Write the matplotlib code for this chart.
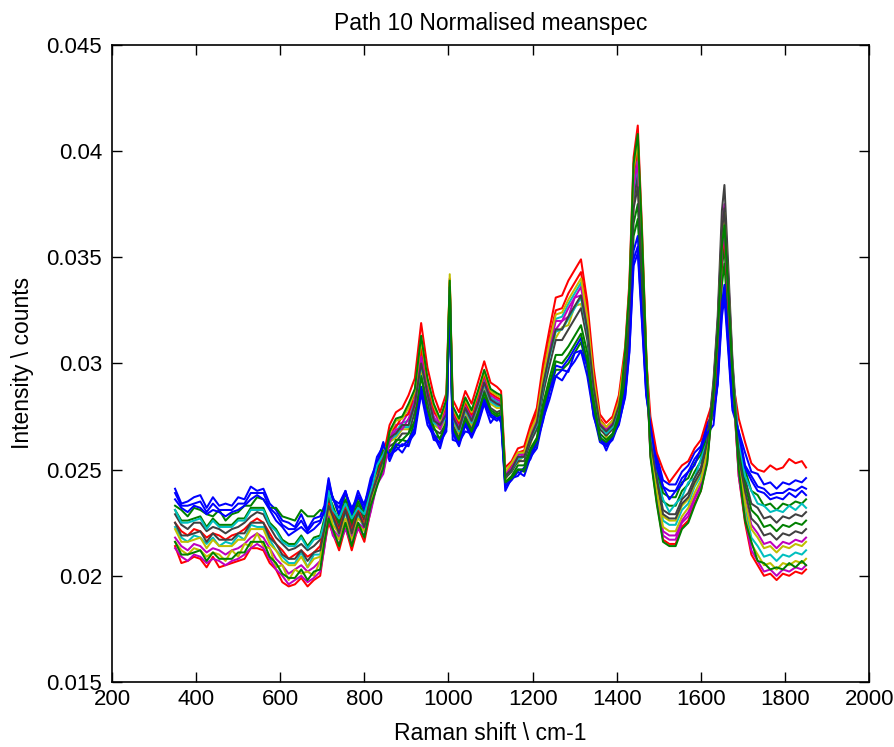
import matplotlib
matplotlib.use('Agg')
import matplotlib.pyplot as plt
import numpy as np

plt.rcParams['font.family'] = ['Liberation Sans', 'DejaVu Sans']

# wavenumber grid (cm-1)
raman_shift = [350, 365, 380, 395, 410, 425, 440, 455, 470, 485, 500, 515, 530, 545, 560, 575, 590, 605, 620, 635, 650, 665, 680, 695,
               705, 715, 725, 740, 755, 770, 785, 800, 815, 830, 845,
               860, 875, 890, 905, 920, 935, 950, 965, 980, 995, 1003, 1010, 1025, 1040, 1055, 1070, 1085, 1100, 1115, 1125,
               1135, 1150, 1165, 1180, 1195, 1210, 1225, 1240, 1255, 1270, 1285, 1300, 1315, 1330, 1345, 1360, 1375, 1390, 1405,
               1420, 1430, 1440, 1450, 1460, 1470,
               1480, 1495, 1510, 1525, 1540, 1555, 1570, 1585, 1600, 1615,
               1630, 1640, 1650, 1656, 1665, 1675,
               1690, 1705, 1720, 1735, 1750, 1765, 1780, 1795, 1810, 1825, 1840, 1850]

# normalised intensities, in units of 1e-4 counts
spec_b1 = [241, 234, 235, 237, 238, 232, 237, 233, 234, 233, 237, 236, 242, 240, 241, 234, 231, 226, 225, 223, 229, 222, 227, 228,
           233, 246, 236, 234, 240, 230, 240, 233, 246, 253, 263,
           254, 261, 258, 263, 267, 286, 271, 266, 260, 271, 330, 264, 263, 268, 267, 271, 281, 272, 276, 272,
           242, 245, 249, 247, 256, 260, 274, 283, 294, 292, 297, 301, 306, 294, 276, 263, 261, 264, 272,
           284, 305, 346, 352, 319, 285,
           271, 257, 245, 243, 243, 249, 252, 258, 261, 272,
           276, 290, 322, 331, 306, 278,
           268, 252, 247, 242, 241, 238, 239, 239, 241, 240, 242, 241]
spec_g1 = [233, 231, 228, 232, 231, 229, 228, 231, 226, 229, 230, 233, 233, 237, 236, 232, 232, 228, 227, 226, 231, 228, 228, 231,
           230, 240, 237, 228, 239, 228, 237, 230, 243, 252, 261,
           259, 261, 264, 263, 273, 289, 278, 266, 265, 270, 333, 269, 263, 273, 267, 274, 284, 277, 275, 276,
           243, 246, 250, 249, 257, 262, 276, 287, 297, 297, 300, 305, 310, 298, 278, 264, 262, 265, 273,
           290, 313, 360, 368, 331, 291,
           268, 252, 239, 237, 237, 244, 246, 253, 257, 268,
           276, 299, 337, 347, 319, 286,
           263, 250, 240, 238, 233, 234, 231, 234, 233, 235, 234, 236]
spec_r1 = [214, 206, 207, 209, 208, 204, 209, 204, 205, 206, 207, 208, 213, 213, 212, 206, 203, 197, 195, 196, 199, 195, 198, 200,
           214, 225, 220, 212, 223, 212, 223, 216, 231, 244, 256,
           271, 277, 279, 285, 293, 319, 298, 285, 277, 286, 340, 283, 277, 287, 281, 291, 301, 291, 289, 287,
           251, 254, 260, 261, 271, 279, 300, 316, 331, 332, 339, 344, 349, 329, 298, 276, 272, 275, 285,
           308, 338, 397, 412, 364, 306,
           257, 235, 217, 215, 215, 223, 226, 234, 240, 254,
           286, 313, 356, 367, 335, 296,
           247, 225, 210, 205, 200, 201, 198, 201, 200, 202, 201, 203]
spec_c1 = [223, 218, 216, 219, 218, 215, 218, 214, 216, 215, 219, 217, 224, 223, 223, 217, 212, 209, 206, 206, 211, 204, 210, 210,
           221, 232, 227, 219, 230, 219, 229, 222, 236, 245, 254,
           266, 268, 272, 273, 283, 302, 288, 274, 272, 277, 337, 276, 270, 280, 274, 282, 292, 284, 282, 281,
           248, 251, 257, 258, 267, 274, 293, 308, 321, 322, 328, 333, 338, 321, 292, 273, 269, 272, 282,
           300, 327, 380, 392, 349, 299,
           261, 242, 226, 224, 224, 231, 234, 242, 247, 260,
           285, 312, 355, 365, 333, 295,
           251, 232, 218, 214, 209, 210, 207, 210, 209, 211, 210, 212]
spec_m1 = [218, 214, 212, 215, 214, 211, 213, 212, 210, 212, 213, 215, 218, 220, 218, 213, 208, 205, 201, 203, 205, 202, 204, 207,
           216, 231, 222, 218, 225, 218, 225, 222, 232, 245, 250,
           265, 271, 272, 277, 283, 307, 288, 278, 271, 280, 336, 277, 271, 281, 275, 284, 294, 285, 283, 282,
           246, 253, 254, 258, 264, 275, 289, 307, 316, 320, 322, 331, 332, 319, 288, 273, 266, 273, 278,
           302, 330, 385, 398, 354, 301,
           259, 238, 221, 219, 219, 226, 230, 237, 243, 256,
           290, 319, 364, 375, 341, 300,
           254, 236, 224, 220, 215, 216, 213, 216, 215, 217, 216, 218]
spec_y1 = [216, 212, 210, 213, 212, 209, 211, 210, 207, 212, 209, 215, 214, 220, 214, 213, 204, 205, 198, 203, 201, 202, 200, 207,
           215, 230, 221, 217, 224, 217, 224, 221, 231, 244, 249,
           263, 265, 269, 269, 279, 297, 284, 271, 269, 274, 342, 273, 267, 277, 271, 279, 289, 281, 279, 279,
           245, 252, 253, 257, 262, 273, 286, 304, 312, 317, 318, 327, 328, 316, 286, 272, 265, 272, 277,
           297, 323, 375, 386, 345, 297,
           262, 244, 228, 226, 226, 233, 236, 243, 249, 261,
           282, 308, 349, 359, 328, 292,
           249, 229, 215, 210, 205, 206, 203, 206, 205, 207, 206, 208]
spec_k1 = [229, 224, 222, 225, 225, 221, 223, 222, 220, 222, 223, 225, 228, 230, 229, 223, 218, 215, 212, 213, 215, 212, 214, 217,
           225, 236, 231, 223, 234, 223, 233, 226, 240, 249, 258,
           261, 263, 267, 267, 277, 294, 282, 269, 267, 272, 334, 271, 265, 275, 269, 277, 287, 279, 277, 278,
           246, 249, 254, 254, 263, 269, 286, 299, 311, 311, 316, 321, 326, 311, 286, 269, 266, 269, 278,
           298, 324, 377, 388, 346, 298,
           263, 244, 229, 227, 227, 234, 237, 244, 249, 262,
           292, 322, 372, 384, 346, 302,
           260, 246, 234, 232, 227, 228, 225, 228, 227, 229, 228, 230]
spec_b2 = [236, 232, 230, 233, 232, 229, 231, 230, 228, 230, 231, 233, 236, 238, 236, 231, 226, 223, 219, 221, 223, 220, 222, 225,
           231, 242, 237, 229, 240, 229, 238, 231, 244, 253, 262,
           256, 262, 261, 264, 269, 289, 274, 267, 262, 271, 332, 268, 262, 272, 266, 273, 283, 276, 274, 275,
           243, 246, 250, 250, 258, 263, 278, 288, 299, 298, 302, 307, 312, 300, 279, 265, 262, 265, 274,
           287, 309, 353, 360, 325, 288,
           270, 255, 242, 240, 240, 246, 249, 255, 259, 270,
           277, 291, 326, 335, 309, 280,
           268, 258, 249, 248, 243, 244, 241, 244, 243, 245, 244, 246]
spec_g2 = [231, 226, 226, 227, 228, 223, 227, 224, 224, 224, 227, 227, 232, 232, 232, 225, 222, 217, 215, 215, 219, 214, 218, 219,
           227, 238, 233, 225, 236, 225, 235, 228, 241, 250, 259,
           258, 264, 264, 267, 273, 294, 278, 270, 264, 273, 333, 270, 264, 274, 268, 276, 286, 278, 276, 277,
           244, 247, 252, 252, 260, 265, 281, 293, 304, 304, 308, 313, 318, 305, 282, 267, 264, 267, 276,
           293, 317, 366, 375, 336, 293,
           266, 249, 235, 233, 233, 240, 243, 249, 254, 266,
           280, 305, 345, 355, 325, 290,
           259, 243, 231, 228, 223, 224, 221, 224, 223, 225, 224, 226]
spec_r2 = [225, 221, 219, 222, 221, 218, 220, 219, 217, 219, 220, 222, 225, 227, 225, 220, 215, 212, 208, 210, 212, 209, 211, 214,
           223, 234, 229, 221, 232, 221, 231, 224, 238, 247, 256,
           268, 270, 275, 276, 287, 307, 292, 277, 274, 279, 338, 278, 272, 282, 276, 285, 295, 286, 284, 283,
           249, 252, 258, 259, 269, 277, 296, 312, 325, 326, 333, 338, 343, 325, 295, 274, 270, 273, 283,
           304, 332, 389, 402, 357, 303,
           275, 258, 250, 244, 248, 252, 254, 260, 264, 274,
           283, 309, 351, 361, 330, 293,
           274, 263, 253, 250, 249, 252, 250, 251, 255, 253, 254, 251]
spec_c2 = [231, 225, 225, 226, 227, 222, 226, 223, 223, 223, 226, 226, 231, 231, 231, 224, 221, 216, 214, 214, 218, 213, 217, 218,
           225, 240, 231, 227, 234, 227, 232, 229, 239, 252, 257,
           264, 266, 270, 270, 281, 299, 286, 272, 270, 275, 336, 274, 268, 278, 272, 280, 290, 282, 280, 280,
           247, 250, 255, 256, 265, 271, 289, 303, 315, 316, 321, 326, 331, 315, 289, 271, 267, 270, 280,
           301, 328, 383, 395, 351, 300,
           268, 246, 236, 230, 234, 237, 244, 246, 255, 263,
           287, 315, 358, 369, 336, 297,
           264, 247, 240, 234, 233, 230, 231, 230, 233, 231, 234, 232]
spec_m2 = [213, 209, 207, 210, 209, 206, 208, 207, 205, 207, 208, 210, 213, 215, 213, 208, 203, 200, 196, 198, 200, 197, 199, 202,
           213, 228, 219, 215, 222, 215, 222, 219, 230, 243, 248,
           263, 269, 269, 274, 280, 303, 285, 275, 269, 278, 335, 275, 269, 279, 273, 281, 291, 283, 281, 281,
           248, 251, 257, 257, 267, 274, 292, 307, 320, 320, 326, 331, 336, 319, 291, 272, 269, 272, 281,
           301, 328, 383, 395, 351, 300,
           258, 236, 219, 217, 217, 225, 228, 236, 242, 255,
           284, 311, 353, 363, 331, 294,
           247, 227, 212, 207, 202, 203, 200, 203, 202, 204, 203, 205]
spec_y2 = [222, 216, 216, 217, 218, 213, 217, 214, 214, 214, 217, 217, 222, 222, 222, 215, 212, 207, 205, 205, 209, 204, 208, 209,
           218, 233, 224, 220, 227, 220, 227, 224, 234, 247, 252,
           267, 273, 274, 279, 287, 311, 292, 280, 273, 282, 339, 279, 273, 283, 277, 286, 296, 287, 285, 284,
           249, 253, 258, 258, 268, 275, 294, 310, 323, 324, 330, 335, 340, 322, 293, 273, 270, 273, 282,
           305, 334, 391, 405, 359, 304,
           260, 240, 223, 221, 221, 228, 232, 239, 245, 258,
           288, 316, 360, 371, 338, 298,
           253, 235, 222, 218, 213, 214, 211, 214, 213, 215, 214, 216]
spec_k2 = [225, 219, 219, 220, 221, 216, 220, 217, 217, 217, 220, 220, 225, 225, 225, 218, 215, 210, 208, 208, 212, 207, 211, 212,
           222, 233, 228, 220, 231, 220, 230, 223, 237, 246, 255,
           265, 267, 271, 271, 281, 300, 286, 273, 271, 276, 336, 275, 269, 279, 273, 281, 291, 283, 281, 280,
           247, 250, 256, 256, 265, 272, 290, 304, 316, 316, 322, 327, 332, 316, 289, 271, 268, 271, 280,
           296, 322, 373, 383, 342, 296,
           264, 246, 231, 229, 229, 236, 239, 246, 251, 263,
           289, 318, 362, 373, 339, 299,
           256, 240, 227, 224, 219, 220, 217, 220, 219, 221, 220, 222]
spec_b3 = [239, 233, 233, 234, 235, 230, 234, 231, 231, 231, 234, 234, 239, 239, 239, 232, 229, 224, 222, 222, 226, 221, 225, 226,
           230, 245, 236, 232, 239, 232, 237, 234, 243, 256, 261,
           257, 259, 262, 261, 270, 286, 275, 264, 263, 268, 332, 267, 261, 271, 265, 272, 282, 275, 273, 275,
           240, 246, 247, 251, 255, 263, 273, 287, 294, 297, 296, 305, 306, 299, 275, 266, 259, 266, 271,
           285, 306, 349, 355, 321, 286,
           271, 251, 242, 236, 240, 243, 249, 252, 260, 267,
           271, 292, 328, 337, 311, 281,
           267, 251, 245, 240, 239, 236, 237, 236, 239, 237, 240, 238]
spec_r3 = [216, 210, 210, 211, 212, 207, 211, 208, 208, 208, 211, 211, 216, 216, 216, 209, 206, 201, 199, 199, 203, 198, 202, 203,
           216, 227, 222, 214, 225, 214, 225, 218, 233, 242, 251,
           268, 274, 275, 281, 288, 313, 293, 281, 274, 283, 339, 280, 274, 284, 278, 287, 297, 288, 286, 285,
           244, 246, 250, 250, 259, 264, 279, 290, 301, 300, 304, 309, 314, 301, 280, 265, 263, 266, 274,
           306, 335, 394, 408, 361, 305,
           256, 234, 216, 214, 214, 222, 225, 233, 240, 253,
           285, 312, 355, 365, 333, 295,
           250, 226, 216, 207, 206, 203, 204, 203, 206, 204, 207, 205]

spectra = [spec_b1, spec_g1, spec_r1, spec_c1, spec_m1, spec_y1, spec_k1, spec_b2,
           spec_g2, spec_r2, spec_c2, spec_m2, spec_y2, spec_k2, spec_b3, spec_r3]
# matlab's old default colour order, cycled
matlab_order = [(0, 0, 1), (0, 0.5, 0), (1, 0, 0), (0, 0.75, 0.75), (0.75, 0, 0.75), (0.75, 0.75, 0), (0.25, 0.25, 0.25)]

y_ticks = [0.015, 0.02, 0.025, 0.03, 0.035, 0.04, 0.045]
y_tick_labels = ['0.015', '0.02', '0.025', '0.03', '0.035', '0.04', '0.045']
x_ticks = [200, 400, 600, 800, 1000, 1200, 1400, 1600, 1800, 2000]

fig = plt.figure(figsize=(8.95, 7.47), dpi=100)
ax = fig.add_axes([0.1251, 0.087, 0.846, 0.853])

for i, spec in enumerate(spectra):
    ax.plot(raman_shift, np.array(spec) / 1e4, color=matlab_order[i % 7], linewidth=1.45)

ax.set_xlim(200, 2000)
ax.set_ylim(0.015, 0.045)
ax.set_xticks(x_ticks)
ax.set_yticks(y_ticks)
ax.set_yticklabels(y_tick_labels)
ax.tick_params(direction='in', top=True, right=True, length=7, width=1, labelsize=16, pad=5)
ax.tick_params(axis='y', pad=7)
for sp in ax.spines.values():
    sp.set_linewidth(1.2)

ax.set_title('Path 10 Normalised meanspec', fontsize=16.5, pad=11)
ax.set_xlabel('Raman shift \\ cm-1', fontsize=16.5, labelpad=9)
ax.set_ylabel('Intensity \\ counts', fontsize=16.5, labelpad=9)

fig.savefig('out.png', dpi=100)
